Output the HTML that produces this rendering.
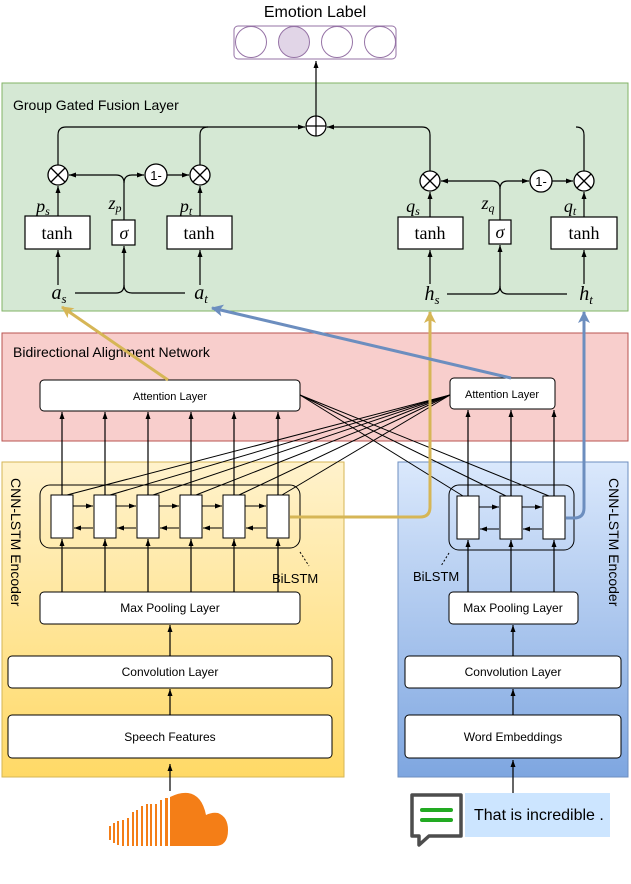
<!DOCTYPE html>
<html><head><meta charset="utf-8"><style>
html,body{margin:0;padding:0;background:#fff;}
svg{display:block;font-family:"Liberation Sans",sans-serif;}
.m{font-family:"Liberation Serif",serif;font-style:italic;}
.t{font-family:"Liberation Serif",serif;}
</style></head><body>
<svg width="631" height="884" viewBox="0 0 631 884" xmlns="http://www.w3.org/2000/svg">
<defs>
<marker id="a" markerWidth="8" markerHeight="8" refX="7" refY="4" orient="auto" markerUnits="userSpaceOnUse"><path d="M0,1.5 L7,4 L0,6.5 Z" fill="#000"/></marker>
<marker id="ay" markerWidth="14" markerHeight="14" refX="11" refY="7" orient="auto" markerUnits="userSpaceOnUse"><path d="M0,1 L12,7 L0,13 L3,7 Z" fill="#d6b656"/></marker>
<marker id="ab" markerWidth="14" markerHeight="14" refX="11" refY="7" orient="auto" markerUnits="userSpaceOnUse"><path d="M0,1 L12,7 L0,13 L3,7 Z" fill="#6c8ebf"/></marker>
<linearGradient id="gy" x1="0" y1="0" x2="0" y2="1"><stop offset="0" stop-color="#fff2cc"/><stop offset="1" stop-color="#ffd966"/></linearGradient>
<linearGradient id="gb" x1="0" y1="0" x2="0" y2="1"><stop offset="0" stop-color="#dae8fc"/><stop offset="1" stop-color="#7ea6e0"/></linearGradient>
<g id="ot"><circle r="10" fill="#fff" stroke="#000" stroke-width="1.3"/><path d="M-7,-7 L7,7 M7,-7 L-7,7" stroke="#000" stroke-width="1.3"/></g>
<g id="om"><circle r="11" fill="#fff" stroke="#000" stroke-width="1.3"/><text x="0" y="5" font-size="13" text-anchor="middle">1-</text></g>
</defs>

<text x="315" y="17" font-size="16" text-anchor="middle">Emotion Label</text>
<rect x="234" y="26" width="162" height="33" rx="4" fill="#fff" stroke="#9673a6"/>
<circle cx="251" cy="42" r="15.5" fill="#fff" stroke="#9673a6"/>
<circle cx="294" cy="42" r="15.5" fill="#e1d5e7" stroke="#9673a6"/>
<circle cx="337" cy="42" r="15.5" fill="#fff" stroke="#9673a6"/>
<circle cx="380" cy="42" r="15.5" fill="#fff" stroke="#9673a6"/>

<rect x="2" y="83" width="626" height="228" fill="#d5e8d4" stroke="#82b366"/>
<text x="13" y="110" font-size="14">Group Gated Fusion Layer</text>
<line x1="316" y1="116" x2="316" y2="61" stroke="#000" stroke-width="1.2" marker-end="url(#a)"/>
<g fill="none" stroke="#000" stroke-width="1.2">
<path d="M58,165 V135 Q58,127 66,127 H305" marker-end="url(#a)"/>
<path d="M200,165 V135 Q200,127 208,127"/>
<path d="M430,171 V135 Q430,127 422,127 H327" marker-end="url(#a)"/>
<path d="M584,171 V135 Q584,127 576,127"/>
<path d="M124,220 V183 Q124,175 116,175 H69" marker-end="url(#a)"/>
<path d="M124,183 Q124,175 132,175 H144" marker-end="url(#a)"/>
<line x1="167" y1="175" x2="189" y2="175" marker-end="url(#a)"/>
<line x1="58" y1="216" x2="58" y2="186" marker-end="url(#a)"/>
<line x1="200" y1="216" x2="200" y2="186" marker-end="url(#a)"/>
<line x1="58" y1="285" x2="58" y2="250" marker-end="url(#a)"/>
<line x1="200" y1="285" x2="200" y2="250" marker-end="url(#a)"/>
<path d="M75,293 H116 Q124,293 124,285 V246" marker-end="url(#a)"/>
<path d="M124,285 Q124,293 132,293 H185"/>
<path d="M500,220 V189 Q500,181 492,181 H441" marker-end="url(#a)"/>
<path d="M500,189 Q500,181 508,181 H529" marker-end="url(#a)"/>
<line x1="552" y1="181" x2="573" y2="181" marker-end="url(#a)"/>
<line x1="430" y1="217" x2="430" y2="192" marker-end="url(#a)"/>
<line x1="584" y1="217" x2="584" y2="192" marker-end="url(#a)"/>
<line x1="430" y1="284" x2="430" y2="250" marker-end="url(#a)"/>
<line x1="584" y1="284" x2="584" y2="250" marker-end="url(#a)"/>
<path d="M447,294 H492 Q500,294 500,286 V245" marker-end="url(#a)"/>
<path d="M500,286 Q500,294 508,294 H567"/>
</g>
<g fill="none" stroke="#000" stroke-width="1.2">
<circle cx="316" cy="126" r="10" fill="#fff"/><path d="M306,126 H326 M316,116 V136"/>
</g>
<use href="#ot" x="58" y="175"/><use href="#ot" x="200" y="175"/><use href="#om" x="156" y="175"/>
<use href="#ot" x="430" y="181"/><use href="#ot" x="584" y="181"/><use href="#om" x="541" y="181"/>
<g fill="#fff" stroke="#000" stroke-width="1.2">
<rect x="25" y="216" width="65" height="33"/><rect x="167" y="216" width="65" height="33"/><rect x="112" y="220" width="23" height="25"/>
<rect x="398" y="217" width="65" height="32"/><rect x="551" y="217" width="66" height="32"/><rect x="489" y="220" width="22" height="24"/>
</g>
<g class="t" font-size="18" text-anchor="middle">
<text x="57" y="239">tanh</text><text x="199" y="239">tanh</text><text x="430" y="239">tanh</text><text x="584" y="239">tanh</text>
</g>
<g class="m" font-size="18" text-anchor="middle">
<text x="124" y="239">σ</text><text x="500" y="238">σ</text>
<text x="43" y="212">p<tspan font-size="12" dy="3">s</tspan></text>
<text x="115" y="209">z<tspan font-size="12" dy="3">p</tspan></text>
<text x="186" y="212">p<tspan font-size="12" dy="3">t</tspan></text>
<text x="413" y="212">q<tspan font-size="12" dy="3">s</tspan></text>
<text x="488" y="209">z<tspan font-size="12" dy="3">q</tspan></text>
<text x="570" y="212">q<tspan font-size="12" dy="3">t</tspan></text>
<text x="59" y="299" font-size="20">a<tspan font-size="13" dy="4">s</tspan></text>
<text x="201" y="299" font-size="20">a<tspan font-size="13" dy="4">t</tspan></text>
<text x="432" y="300" font-size="20">h<tspan font-size="13" dy="4">s</tspan></text>
<text x="586" y="300" font-size="20">h<tspan font-size="13" dy="4">t</tspan></text>
</g>

<rect x="2" y="333" width="626" height="108" fill="#f8cecc" stroke="#b85450"/>
<text x="13" y="357" font-size="14">Bidirectional Alignment Network</text>

<rect x="2" y="462" width="342" height="315" fill="url(#gy)" stroke="#d6b656"/>
<rect x="398" y="462" width="230" height="315" fill="url(#gb)" stroke="#6c8ebf"/>
<text transform="translate(11,478) rotate(90)" font-size="14">CNN-LSTM Encoder</text>
<text transform="translate(609,478) rotate(90)" font-size="14">CNN-LSTM Encoder</text>

<g stroke="#000" stroke-width="1" fill="none">
<line x1="67" y1="495" x2="450" y2="395"/><line x1="110" y1="495" x2="450" y2="395"/><line x1="153" y1="495" x2="450" y2="395"/>
<line x1="196" y1="495" x2="450" y2="395"/><line x1="239" y1="495" x2="450" y2="395"/><line x1="282" y1="495" x2="450" y2="395"/>
<line x1="463" y1="496" x2="300" y2="395"/><line x1="506" y1="496" x2="300" y2="395"/><line x1="549" y1="496" x2="300" y2="395"/>
</g>
<g stroke="#000" stroke-width="1.2">
<line x1="62" y1="495" x2="62" y2="412" marker-end="url(#a)"/><line x1="105" y1="495" x2="105" y2="412" marker-end="url(#a)"/>
<line x1="148" y1="495" x2="148" y2="412" marker-end="url(#a)"/><line x1="191" y1="495" x2="191" y2="412" marker-end="url(#a)"/>
<line x1="234" y1="495" x2="234" y2="412" marker-end="url(#a)"/><line x1="278" y1="495" x2="278" y2="412" marker-end="url(#a)"/>
<line x1="468" y1="496" x2="468" y2="410" marker-end="url(#a)"/><line x1="511" y1="496" x2="511" y2="410" marker-end="url(#a)"/>
<line x1="554" y1="496" x2="554" y2="410" marker-end="url(#a)"/>
</g>
<rect x="40" y="380" width="260" height="31" rx="4" fill="#fff" stroke="#000"/>
<text x="170" y="400" font-size="11" text-anchor="middle">Attention Layer</text>
<rect x="450" y="378" width="105" height="31" rx="4" fill="#fff" stroke="#000"/>
<text x="502" y="398" font-size="11" text-anchor="middle">Attention Layer</text>

<rect x="40" y="485" width="260" height="63" rx="10" fill="none" stroke="#000"/>
<g fill="#fff" stroke="#000">
<rect x="51" y="495" width="22" height="43"/><rect x="94" y="495" width="22" height="43"/><rect x="137" y="495" width="22" height="43"/>
<rect x="180" y="495" width="22" height="43"/><rect x="223" y="495" width="22" height="43"/><rect x="267" y="495" width="22" height="43"/>
</g>
<g stroke="#000" stroke-width="1">
<line x1="73" y1="506" x2="93" y2="506" marker-end="url(#a)"/><line x1="116" y1="506" x2="136" y2="506" marker-end="url(#a)"/>
<line x1="159" y1="506" x2="179" y2="506" marker-end="url(#a)"/><line x1="202" y1="506" x2="222" y2="506" marker-end="url(#a)"/>
<line x1="245" y1="506" x2="266" y2="506" marker-end="url(#a)"/>
<line x1="93" y1="528" x2="74" y2="528" marker-end="url(#a)"/><line x1="136" y1="528" x2="117" y2="528" marker-end="url(#a)"/>
<line x1="179" y1="528" x2="160" y2="528" marker-end="url(#a)"/><line x1="222" y1="528" x2="203" y2="528" marker-end="url(#a)"/>
<line x1="266" y1="528" x2="246" y2="528" marker-end="url(#a)"/>
<line x1="300" y1="552" x2="309" y2="566" stroke-dasharray="2,2"/>
</g>
<text x="272" y="583" font-size="13">BiLSTM</text>
<g stroke="#000" stroke-width="1.2">
<line x1="62" y1="592" x2="62" y2="539" marker-end="url(#a)"/><line x1="105" y1="592" x2="105" y2="539" marker-end="url(#a)"/>
<line x1="148" y1="592" x2="148" y2="539" marker-end="url(#a)"/><line x1="191" y1="592" x2="191" y2="539" marker-end="url(#a)"/>
<line x1="234" y1="592" x2="234" y2="539" marker-end="url(#a)"/><line x1="278" y1="592" x2="278" y2="539" marker-end="url(#a)"/>
<line x1="170" y1="656" x2="170" y2="625" marker-end="url(#a)"/><line x1="170" y1="715" x2="170" y2="689" marker-end="url(#a)"/>
<line x1="170" y1="791" x2="170" y2="764" marker-end="url(#a)"/>
</g>
<rect x="40" y="592" width="260" height="32" rx="4" fill="#fff" stroke="#000"/>
<text x="170" y="612" font-size="12" text-anchor="middle">Max Pooling Layer</text>
<rect x="8" y="656" width="324" height="32" rx="4" fill="#fff" stroke="#000"/>
<text x="170" y="676" font-size="12" text-anchor="middle">Convolution Layer</text>
<rect x="8" y="715" width="324" height="43" rx="4" fill="#fff" stroke="#000"/>
<text x="170" y="741" font-size="12" text-anchor="middle">Speech Features</text>

<rect x="449" y="485" width="125" height="65" rx="10" fill="none" stroke="#000"/>
<g fill="#fff" stroke="#000">
<rect x="457" y="496" width="22" height="43"/><rect x="500" y="496" width="22" height="43"/><rect x="543" y="496" width="22" height="43"/>
</g>
<g stroke="#000" stroke-width="1">
<line x1="479" y1="507" x2="499" y2="507" marker-end="url(#a)"/><line x1="522" y1="507" x2="542" y2="507" marker-end="url(#a)"/>
<line x1="499" y1="529" x2="480" y2="529" marker-end="url(#a)"/><line x1="542" y1="529" x2="523" y2="529" marker-end="url(#a)"/>
<line x1="449" y1="553" x2="441" y2="566" stroke-dasharray="2,2"/>
</g>
<text x="413" y="581" font-size="13">BiLSTM</text>
<g stroke="#000" stroke-width="1.2">
<line x1="468" y1="592" x2="468" y2="540" marker-end="url(#a)"/><line x1="511" y1="592" x2="511" y2="540" marker-end="url(#a)"/>
<line x1="554" y1="592" x2="554" y2="540" marker-end="url(#a)"/>
<line x1="513" y1="656" x2="513" y2="625" marker-end="url(#a)"/><line x1="513" y1="715" x2="513" y2="689" marker-end="url(#a)"/>
<line x1="513" y1="793" x2="513" y2="760" marker-end="url(#a)"/>
</g>
<rect x="449" y="592" width="129" height="32" rx="4" fill="#fff" stroke="#000"/>
<text x="513" y="612" font-size="12" text-anchor="middle">Max Pooling Layer</text>
<rect x="405" y="656" width="216" height="32" rx="4" fill="#fff" stroke="#000"/>
<text x="513" y="676" font-size="12" text-anchor="middle">Convolution Layer</text>
<rect x="405" y="715" width="216" height="43" rx="4" fill="#fff" stroke="#000"/>
<text x="513" y="741" font-size="12" text-anchor="middle">Word Embeddings</text>

<g fill="none" stroke-width="3">
<path d="M290,517 H420 Q430,517 430,507 V312" stroke="#d6b656" marker-end="url(#ay)"/>
<path d="M566,518 H574 Q584,518 584,508 V312" stroke="#6c8ebf" marker-end="url(#ab)"/>
<line x1="168" y1="380" x2="62" y2="307" stroke="#d6b656" marker-end="url(#ay)"/>
<line x1="511" y1="378" x2="212" y2="308" stroke="#6c8ebf" marker-end="url(#ab)"/>
</g>

<g fill="#f47e17">
<path d="M170,846 V797 Q180,792 188,793 Q202,795 206,815 Q212,812 218,813 Q228,817 228,830 Q228,846 215,846 Z"/>
<rect x="165" y="798" width="3" height="48"/><rect x="160" y="800" width="2" height="46"/><rect x="155" y="804" width="2" height="42"/>
<rect x="150" y="804" width="2" height="42"/><rect x="146" y="804" width="2" height="42"/><rect x="141" y="806" width="2" height="40"/>
<rect x="136" y="810" width="2" height="36"/><rect x="132" y="812" width="2" height="34"/><rect x="127" y="818" width="2" height="28"/>
<rect x="122" y="820" width="2" height="26"/><rect x="117" y="821" width="2" height="24"/><rect x="113" y="823" width="2" height="20"/><rect x="109" y="826" width="2" height="14"/>
</g>
<rect x="465" y="793" width="145" height="44" fill="#cce5ff"/>
<text x="474" y="820" font-size="16">That is incredible .</text>
<path d="M412,795 H461 V836 H429 L419,845 V836 H412 Z" fill="#fff" stroke="#4d4d4d" stroke-width="3.5" stroke-linejoin="round"/>
<line x1="422" y1="810" x2="451" y2="810" stroke="#22aa22" stroke-width="4" stroke-linecap="round"/>
<line x1="422" y1="820" x2="451" y2="820" stroke="#22aa22" stroke-width="4" stroke-linecap="round"/>
</svg>
</body></html>
